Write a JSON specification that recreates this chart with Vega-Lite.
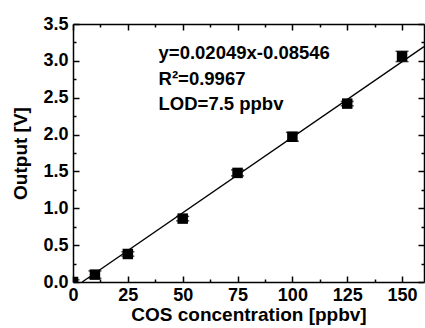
{
  "$schema": "https://vega.github.io/schema/vega-lite/v6.json",
  "width": 351,
  "height": 258,
  "autosize": "none",
  "padding": {"left": 73, "top": 24, "right": 1, "bottom": 46},
  "background": "white",
  "config": {
    "view": {"stroke": null},
    "axis": {
      "labelFont": "Liberation Sans", "labelFontWeight": "bold", "labelFontSize": 18, "labelColor": "#000",
      "titleFont": "Liberation Sans", "titleFontWeight": "bold", "titleFontSize": 19, "titleColor": "#000",
      "domainColor": "#000", "domainWidth": 1.5, "tickColor": "#000", "tickWidth": 1.5, "grid": false
    }
  },
  "datasets": {
    "pts": [
      {"c": 0, "v": 0.0, "lo": -0.03, "hi": 0.03},
      {"c": 10, "v": 0.1, "lo": 0.05, "hi": 0.15},
      {"c": 25, "v": 0.38, "lo": 0.35, "hi": 0.41},
      {"c": 50, "v": 0.86, "lo": 0.83, "hi": 0.89},
      {"c": 75, "v": 1.48, "lo": 1.44, "hi": 1.52},
      {"c": 100, "v": 1.97, "lo": 1.91, "hi": 2.03},
      {"c": 125, "v": 2.42, "lo": 2.39, "hi": 2.45},
      {"c": 150, "v": 3.06, "lo": 2.99, "hi": 3.13}
    ],
    "fit": [
      {"c": 4.17, "v": 0.0},
      {"c": 160, "v": 3.193}
    ],
    "notes": [
      {"c": 39, "v": 3.1, "t": "y=0.02049x-0.08546"},
      {"c": 39, "v": 2.76, "t": "R\u00b2=0.9967"},
      {"c": 39, "v": 2.41, "t": "LOD=7.5 ppbv"}
    ]
  },
  "resolve": {"axis": {"x": "independent", "y": "independent"}},
  "layer": [
    {
      "data": {"name": "fit"},
      "mark": {"type": "line", "color": "#000", "strokeWidth": 1.3, "clip": true},
      "encoding": {
        "x": {"field": "c", "type": "quantitative", "scale": {"domain": [0, 160], "nice": false},
          "axis": {"title": "COS concentration [ppbv]", "values": [0, 25, 50, 75, 100, 125, 150], "tickSize": -6, "labelPadding": 10, "titlePadding": 1, "labelFlush": false}},
        "y": {"field": "v", "type": "quantitative", "scale": {"domain": [0, 3.5], "nice": false},
          "axis": {"title": "Output [V]", "values": [0, 0.5, 1, 1.5, 2, 2.5, 3, 3.5], "format": ".1f", "tickSize": -6, "labelPadding": 11, "titlePadding": 12, "labelFlush": false}}
      }
    },
    {
      "data": {"name": "pts"},
      "mark": {"type": "rule", "color": "#000", "strokeWidth": 1.5, "clip": true},
      "encoding": {
        "x": {"field": "c", "type": "quantitative", "axis": {"orient": "top", "values": [0, 25, 50, 75, 100, 125, 150], "labels": false, "title": null, "tickSize": -6}},
        "y": {"field": "lo", "type": "quantitative", "axis": {"orient": "right", "values": [0, 0.5, 1, 1.5, 2, 2.5, 3, 3.5], "labels": false, "title": null, "tickSize": -6}},
        "y2": {"field": "hi"}
      }
    },
    {
      "data": {"name": "pts"},
      "mark": {"type": "tick", "color": "#000", "orient": "horizontal", "size": 13, "thickness": 1.5, "clip": true},
      "encoding": {
        "x": {"field": "c", "type": "quantitative", "axis": {"orient": "bottom", "values": [12.5, 37.5, 62.5, 87.5, 112.5, 137.5], "labels": false, "title": null, "tickSize": -3, "domain": false}},
        "y": {"field": "lo", "type": "quantitative", "axis": {"orient": "left", "values": [0.25, 0.75, 1.25, 1.75, 2.25, 2.75, 3.25], "labels": false, "title": null, "tickSize": -3, "domain": false}}
      }
    },
    {
      "data": {"name": "pts"},
      "mark": {"type": "tick", "color": "#000", "orient": "horizontal", "size": 13, "thickness": 1.5, "clip": true},
      "encoding": {
        "x": {"field": "c", "type": "quantitative", "axis": {"orient": "top", "values": [12.5, 37.5, 62.5, 87.5, 112.5, 137.5], "labels": false, "title": null, "tickSize": -3, "domain": false}},
        "y": {"field": "hi", "type": "quantitative", "axis": {"orient": "right", "values": [0.25, 0.75, 1.25, 1.75, 2.25, 2.75, 3.25], "labels": false, "title": null, "tickSize": -3, "domain": false}}
      }
    },
    {
      "data": {"name": "pts"},
      "mark": {"type": "square", "color": "#000", "opacity": 1, "filled": true, "size": 110, "clip": true},
      "encoding": {
        "x": {"field": "c", "type": "quantitative", "axis": null},
        "y": {"field": "v", "type": "quantitative", "axis": null}
      }
    },
    {
      "data": {"name": "notes"},
      "mark": {"type": "text", "align": "left", "baseline": "middle", "font": "Liberation Sans", "fontWeight": "bold", "fontSize": 18.5, "color": "#000"},
      "encoding": {
        "x": {"field": "c", "type": "quantitative", "axis": null},
        "y": {"field": "v", "type": "quantitative", "axis": null},
        "text": {"field": "t"}
      }
    }
  ]
}
